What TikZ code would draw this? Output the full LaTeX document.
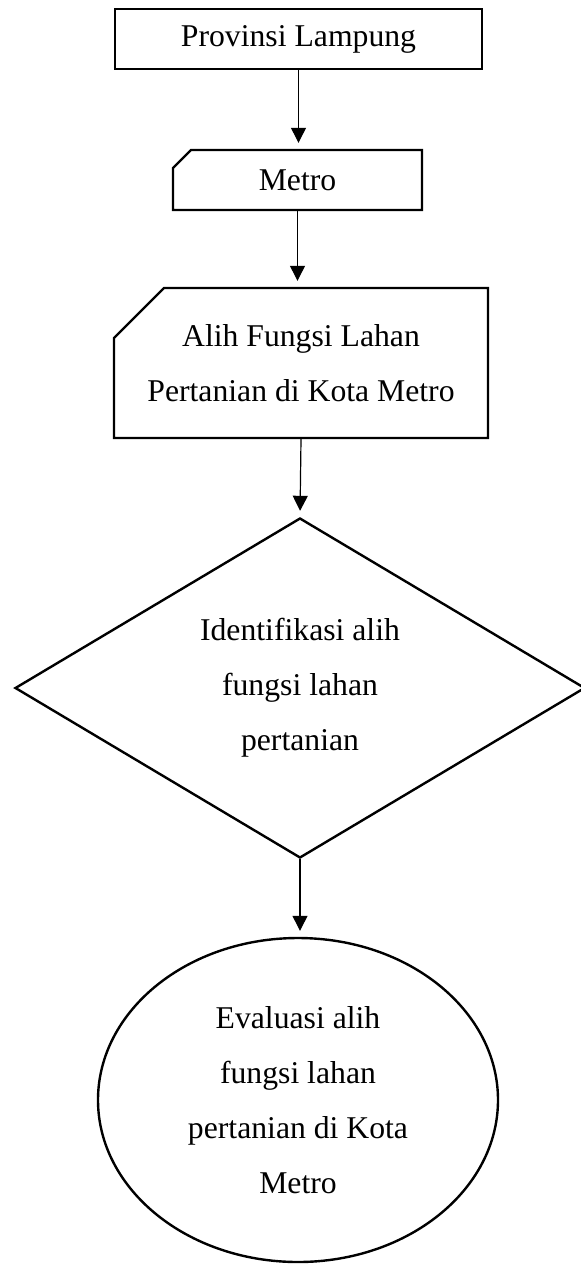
\documentclass[tikz,border=0pt]{standalone}
\usepackage{fontspec}
\setmainfont{Liberation Serif}
\usetikzlibrary{shapes.geometric,shapes.misc,arrows.meta}
\begin{document}
\begin{tikzpicture}[x=1pt,y=-1pt,
  every node/.style={font=\fontsize{31.7}{55}\selectfont, align=center, inner sep=0pt, line width=2.4pt, draw},
  plainbox/.style={rectangle},
  cutbox/.style={chamfered rectangle, chamfered rectangle corners=north west},
  arr/.style={line width=1.2pt, -{Triangle[length=15pt,width=15pt]}, shorten >=6pt}]
\useasboundingbox (0,0) rectangle (581,1264);
\node[plainbox, minimum width=367pt, minimum height=60pt] (prov) at (298.5,39) {Provinsi Lampung};
\node[cutbox, chamfered rectangle sep=9pt, minimum width=249pt, minimum height=60pt] (metro) at (297.5,180) {Metro};
\node[cutbox, chamfered rectangle sep=25pt, minimum width=374pt, minimum height=150pt] (alih) at (301,363) {Alih Fungsi Lahan\\Pertanian di Kota Metro};
\node[diamond, aspect=1.676, minimum width=570pt, minimum height=340pt] (iden) at (300,688) {Identifikasi alih\\fungsi lahan\\pertanian};
\node[ellipse, minimum width=400pt, minimum height=324pt] (eval) at (298,1100) {Evaluasi alih\\fungsi lahan\\pertanian di Kota\\Metro};
\draw[arr] (prov.south) -- (prov.south |- metro.north);
\draw[arr] (metro.south) -- (metro.south |- alih.north);
\draw[arr] (alih.south) -- (iden.north);
\draw[arr] (iden.south) -- (iden.south |- eval.north);
\end{tikzpicture}
\end{document}
